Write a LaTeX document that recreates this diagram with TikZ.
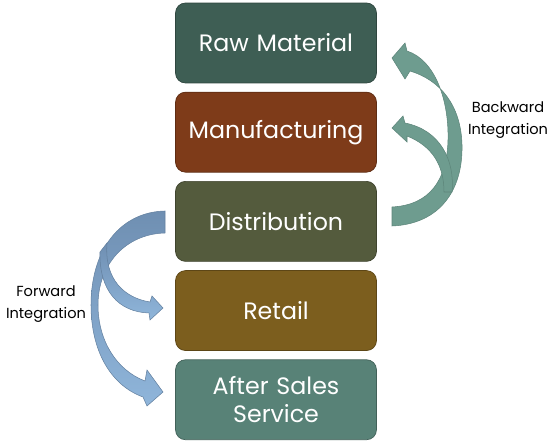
\documentclass[tikz,border=0pt]{standalone}
\usepackage{fontspec}
\setmainfont{Poppins}
\usetikzlibrary{positioning}
\definecolor{rawcol}{HTML}{3E5E54}
\definecolor{mancol}{HTML}{7E3B19}
\definecolor{discol}{HTML}{545B3D}
\definecolor{retcol}{HTML}{7C5E1E}
\definecolor{aftcol}{HTML}{588277}
\definecolor{backcol}{HTML}{6E9C8F}
\definecolor{forecol}{HTML}{8FB5DA}
\definecolor{foredark}{HTML}{6F8FB2}
\tikzset{
    stage/.style={
        rectangle, rounded corners=0.2cm,
        draw=#1!75!black, fill=#1,
        minimum width=4.02cm, minimum height=1.6cm,
        text width=3.9cm, align=center, inner sep=0pt,
        text=white, font=\fontsize{13.5}{16}\selectfont
    },
    caption/.style={font=\fontsize{8.3}{12.5}\selectfont, align=center, text=black},
    backarrow/.style={fill=backcol, draw=backcol!85!black, line width=0.3pt},
    forearrow/.style={top color=foredark, bottom color=forecol, draw=foredark!90!black, line width=0.3pt}
}
\begin{document}
\begin{tikzpicture}[x=0.02cm, y=-0.02cm, node distance=0.17cm]
\useasboundingbox (0,0) rectangle (550,445);

	\node[stage=rawcol] (raw) at (276,43) {Raw Material};
	\node[stage=mancol] (manu) [below=of raw] {Manufacturing};
	\node[stage=discol] (dist) [below=of manu] {Distribution};
	\node[stage=retcol] (retail) [below=of dist] {Retail};
	\node[stage=aftcol] (after) [below=of retail] {After Sales\\Service};

	% backward integration
	\draw[backarrow] (392,207) -- (392,226) .. controls (440,224) and (463,190) .. (462,145)
	    .. controls (461,105) and (440,80) .. (410,71) -- (405,79) -- (392,58) -- (405,43) -- (407,51)
	    .. controls (435,60) and (449,100) .. (448,140) .. controls (447,180) and (430,205) .. (392,207) -- cycle;
	\draw[backarrow] (392,128) -- (403,116) -- (405,123) .. controls (440,130) and (455,160) .. (452,192)
	    -- (444,192) .. controls (444,165) and (432,146) .. (407,136) -- (407,142) -- cycle;

	% forward integration
	\draw[forearrow] (165,211) .. controls (120,212) and (91,250) .. (91,305)
	    .. controls (91,350) and (110,385) .. (143,397) -- (147,406) -- (163,392) -- (147,370) -- (145,381)
	    .. controls (116,370) and (98,340) .. (98,305) .. controls (98,265) and (125,234) .. (165,233) -- cycle;
	\draw[forearrow] (107,243) .. controls (104,280) and (125,298) .. (150,302) -- (152,296) -- (163,308)
	    -- (150,320) -- (149,313) .. controls (118,312) and (99,290) .. (100,252) -- cycle;

	\node[caption] (back) at (508,120) {Backward\\Integration};
	\node[caption] (fwd) at (46,304) {Forward\\Integration};
\end{tikzpicture}
\end{document}
